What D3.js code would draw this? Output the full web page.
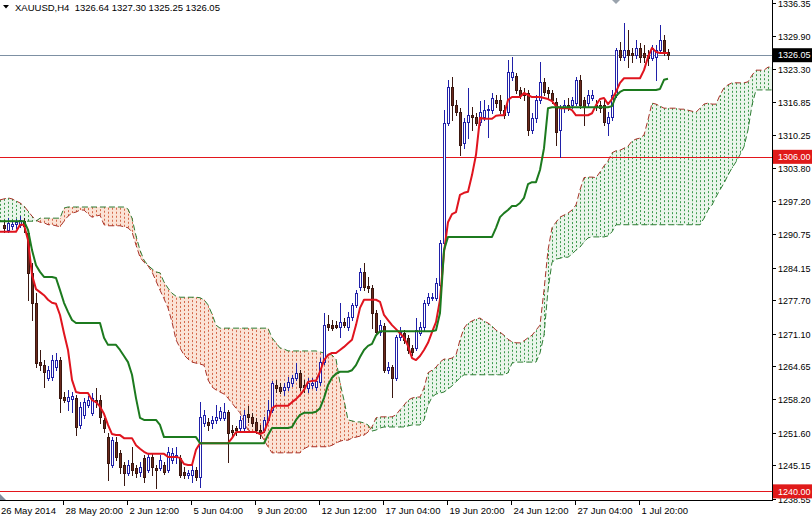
<!DOCTYPE html>
<html><head><meta charset="utf-8">
<script src="https://cdn.jsdelivr.net/npm/d3@7/dist/d3.min.js"></script>
<style>html,body{margin:0;padding:0;background:#fff;overflow:hidden}</style>
</head><body>
<svg id="chart" width="812" height="517"></svg>
<script>
// ---------- DATA ----------
const symbolTitle = "XAUUSD,H4";
const titleValues = ["1326.64", "1327.30", "1325.25", "1326.05"];
const firstBar = 1; // candles start at bar 1
const open = [
1292.6,1291.6,1292.4,1292.8,1292.6,1293.3,1291.0,1283.1,1277.2,1265.5,
1264.9,1262.4,1262.6,1264.5,1265.9,1258.6,1257.8,1258.2,1258.4,1253.1,
1255.1,1257.0,1255.5,1258.0,1258.0,1254.1,1250.7,1245.2,1249.7,1247.6,
1245.2,1243.6,1245.6,1244.6,1243.8,1246.6,1244.2,1246.8,1244.6,1244.6,
1245.2,1244.2,1246.2,1246.8,1246.6,1243.8,1243.2,1243.2,1244.2,1242.8,
1253.5,1253.7,1253.5,1254.1,1254.5,1254.5,1255.7,1252.1,1252.5,1252.5,
1252.5,1255.3,1254.7,1253.7,1252.1,1252.1,1254.1,1256.1,1261.0,1260.6,
1260.0,1260.6,1261.4,1262.4,1263.4,1261.0,1260.4,1261.0,1260.6,1261.6,
1265.5,1273.0,1272.8,1272.8,1272.4,1273.4,1272.4,1274.4,1276.8,1280.3,
1283.3,1280.5,1280.1,1275.2,1271.4,1272.6,1263.9,1264.5,1262.4,1270.4,
1271.2,1270.3,1268.3,1268.3,1271.2,1272.4,1277.2,1278.2,1278.2,1280.7,
1289.0,1312.7,1319.8,1316.2,1314.8,1308.7,1312.9,1314.2,1313.9,1312.9,
1313.9,1315.2,1315.2,1317.2,1317.2,1315.2,1314.8,1321.7,1321.9,1319.2,
1318.6,1318.6,1311.3,1313.7,1317.2,1320.8,1319.2,1318.6,1316.8,1311.3,
1315.6,1316.2,1316.2,1316.6,1321.2,1317.2,1316.6,1317.6,1316.2,1316.2,
1316.2,1312.7,1313.9,1318.2,1327.1,1325.7,1327.1,1326.5,1326.1,1327.5,
1326.5,1326.1,1325.5,1325.7,1327.1,1329.1,1326.64];
const high = [
1293.5,1293.9,1293.3,1293.7,1294.3,1293.9,1291.6,1285.1,1279.1,1267.9,
1265.9,1264.7,1266.9,1267.3,1266.5,1259.6,1260.0,1259.6,1259.0,1257.6,
1258.4,1258.8,1259.4,1260.4,1259.0,1254.5,1251.5,1250.7,1250.7,1248.2,
1245.8,1246.2,1248.8,1245.2,1245.8,1247.2,1247.6,1247.6,1245.2,1247.2,
1245.8,1248.8,1248.6,1248.8,1247.2,1244.8,1244.2,1245.2,1244.8,1257.6,
1256.1,1254.5,1254.9,1257.0,1256.7,1257.4,1256.1,1253.1,1252.9,1254.9,
1256.1,1256.9,1255.5,1254.5,1253.1,1254.7,1258.0,1261.8,1262.0,1261.4,
1261.4,1262.6,1263.0,1265.3,1263.9,1262.0,1262.4,1262.4,1262.6,1266.3,
1275.2,1274.8,1273.8,1273.6,1277.2,1274.2,1275.4,1277.2,1279.7,1284.1,
1285.1,1282.3,1280.7,1275.8,1273.8,1273.2,1265.5,1264.9,1270.8,1272.4,
1271.8,1270.8,1268.9,1274.2,1273.4,1277.8,1279.1,1279.1,1282.1,1289.6,
1315.2,1321.2,1321.7,1317.2,1315.6,1313.7,1319.6,1315.8,1314.6,1317.0,
1317.2,1316.2,1318.6,1318.2,1318.2,1316.2,1325.1,1325.7,1322.5,1319.8,
1319.6,1319.2,1314.6,1318.2,1324.7,1321.6,1319.8,1319.2,1317.6,1316.2,
1317.2,1317.6,1317.8,1321.7,1322.2,1317.8,1319.2,1319.2,1317.2,1317.0,
1317.2,1314.8,1319.2,1327.5,1328.7,1332.4,1331.0,1327.5,1329.1,1328.5,
1328.1,1327.1,1328.1,1328.1,1332.0,1330.0,1327.30];
const low = [
1291.2,1291.2,1291.8,1292.0,1292.2,1291.2,1277.8,1273.8,1264.5,1263.9,
1260.6,1262.0,1262.0,1263.9,1255.7,1257.6,1256.1,1255.7,1251.1,1252.5,
1254.5,1256.7,1255.1,1256.7,1253.5,1251.7,1242.2,1244.8,1246.2,1243.6,
1241.3,1243.2,1243.2,1242.8,1243.0,1241.9,1243.8,1243.2,1240.7,1244.2,
1243.4,1243.8,1245.6,1245.6,1242.8,1242.6,1242.6,1241.9,1242.2,1240.9,
1252.9,1252.1,1252.5,1253.5,1254.1,1254.1,1245.8,1250.7,1251.1,1252.1,
1252.1,1253.7,1252.9,1251.5,1250.5,1251.7,1253.7,1255.7,1259.6,1259.4,
1259.0,1260.0,1260.8,1262.0,1260.0,1259.6,1259.6,1260.4,1260.0,1261.0,
1265.1,1271.8,1271.8,1272.2,1270.4,1272.4,1271.8,1273.8,1276.4,1279.7,
1279.7,1279.3,1272.2,1270.8,1270.8,1263.6,1263.4,1258.6,1262.0,1269.9,
1269.3,1267.3,1266.9,1267.9,1270.8,1271.8,1276.8,1277.8,1277.8,1280.1,
1288.6,1312.3,1313.3,1314.2,1306.4,1307.7,1309.7,1311.3,1312.3,1312.3,
1313.3,1309.9,1314.6,1315.8,1314.6,1313.7,1314.2,1321.2,1318.6,1317.6,
1317.2,1310.3,1310.7,1312.9,1316.6,1318.2,1317.6,1316.6,1308.3,1306.0,
1314.8,1315.2,1315.6,1316.2,1315.6,1312.3,1315.8,1317.2,1315.2,1314.8,
1312.3,1310.3,1313.3,1317.8,1325.1,1325.1,1323.7,1324.7,1325.5,1324.7,
1324.7,1324.1,1325.1,1321.2,1326.5,1326.1,1325.25];
const close = [
1292.0,1293.0,1292.8,1293.1,1293.5,1292.4,1283.1,1277.2,1265.3,1264.9,
1263.6,1263.9,1265.9,1265.9,1258.4,1258.0,1258.6,1258.8,1252.7,1256.7,
1257.6,1258.0,1258.4,1257.6,1254.7,1252.5,1245.6,1250.1,1246.8,1244.8,
1243.6,1245.2,1244.2,1243.6,1244.8,1242.8,1246.8,1244.8,1244.2,1246.2,
1243.8,1247.8,1247.6,1247.2,1243.2,1243.2,1243.6,1244.2,1242.8,1254.7,
1255.1,1253.1,1254.1,1254.7,1255.9,1255.7,1251.5,1251.7,1252.1,1254.1,
1255.1,1254.7,1253.5,1252.1,1251.7,1254.1,1256.1,1261.4,1260.4,1259.8,
1260.6,1261.6,1262.4,1263.4,1260.6,1260.6,1261.4,1261.4,1261.8,1265.5,
1272.8,1272.4,1272.2,1272.4,1273.4,1272.8,1274.4,1276.8,1279.1,1283.3,
1280.3,1280.1,1275.2,1271.4,1272.8,1263.9,1264.5,1262.4,1270.4,1271.4,
1269.9,1267.9,1267.5,1271.8,1272.4,1277.2,1278.3,1278.3,1281.1,1289.0,
1312.7,1319.8,1316.2,1314.8,1308.3,1312.9,1314.2,1313.9,1312.7,1314.8,
1315.2,1315.4,1317.6,1316.6,1315.2,1314.2,1322.7,1322.7,1319.2,1318.2,
1318.2,1311.3,1313.7,1317.2,1320.8,1318.8,1318.6,1317.2,1310.9,1315.6,
1316.2,1315.8,1317.2,1321.2,1316.2,1315.8,1318.2,1318.2,1315.8,1315.6,
1312.9,1313.9,1318.2,1327.1,1325.7,1327.1,1326.1,1326.1,1327.5,1325.7,
1325.7,1325.5,1327.5,1327.1,1329.1,1326.7,1326.05];

// Ichimoku lines, one value per bar (bar 0 .. 167)
const tenkan = [
1291.2,1291.2,1291.2,1291.2,1291.2,1292.6,1292.6,1289.6,1282.7,1279.9,
1279.3,1278.7,1277.8,1277.2,1277.0,1274.8,1271.2,1267.9,1262.0,1259.6,
1259.4,1259.4,1259.4,1258.0,1257.6,1256.7,1255.3,1253.1,1251.3,1251.1,
1251.1,1250.5,1250.5,1250.5,1249.1,1248.4,1247.8,1247.4,1247.4,1247.4,
1247.4,1247.4,1246.8,1246.8,1246.8,1246.6,1245.4,1245.2,1245.2,1248.2,
1249.5,1249.5,1249.5,1249.5,1249.5,1249.5,1249.5,1249.5,1250.5,1251.7,
1251.7,1251.7,1251.7,1251.7,1251.7,1251.3,1251.7,1253.7,1256.4,1256.9,
1256.9,1256.9,1256.9,1257.6,1258.2,1259.0,1260.0,1261.6,1261.8,1261.8,
1263.6,1265.9,1266.9,1267.3,1267.3,1267.9,1268.5,1269.2,1269.9,1272.8,
1276.2,1277.8,1277.8,1277.8,1277.8,1277.4,1274.8,1273.8,1272.8,1272.0,
1271.2,1270.3,1268.7,1266.3,1265.9,1266.7,1267.9,1269.3,1271.4,1273.4,
1277.8,1287.2,1293.1,1294.7,1295.1,1298.5,1298.9,1299.1,1302.4,1306.4,
1313.7,1313.5,1313.5,1313.5,1314.1,1314.2,1314.2,1317.2,1317.8,1317.8,
1317.8,1318.6,1318.2,1317.8,1317.8,1317.8,1317.6,1317.4,1317.0,1316.0,
1315.6,1315.6,1315.6,1315.2,1314.2,1314.2,1314.2,1314.2,1314.6,1316.2,
1317.4,1317.6,1316.4,1317.4,1318.8,1320.6,1321.5,1321.5,1321.5,1321.5,
1321.5,1323.1,1325.7,1327.5,1326.7,1326.5,1326.5,1326.5];
const kijun = [
1293.3,1293.3,1293.3,1293.3,1293.3,1293.3,1293.3,1291.6,1287.6,1284.6,
1283.3,1282.3,1282.3,1282.3,1282.1,1279.7,1277.2,1275.4,1273.8,1273.2,
1273.2,1273.2,1273.2,1273.2,1273.2,1273.2,1270.3,1268.9,1268.9,1268.9,
1267.9,1266.7,1265.5,1263.0,1258.4,1254.5,1254.1,1254.1,1254.1,1254.1,
1253.1,1250.7,1250.7,1250.7,1250.7,1250.7,1250.7,1250.7,1250.7,1250.7,
1249.5,1249.5,1249.5,1249.5,1249.5,1249.5,1249.5,1249.5,1249.5,1249.5,
1249.5,1249.5,1249.5,1249.5,1249.5,1249.5,1249.5,1251.1,1252.5,1252.5,
1252.5,1252.5,1252.5,1252.7,1254.1,1255.1,1255.5,1255.5,1255.5,1255.7,
1256.4,1258.4,1261.0,1262.4,1263.2,1263.6,1263.6,1263.6,1263.9,1264.9,
1266.5,1267.9,1268.7,1269.1,1270.8,1271.6,1271.6,1271.6,1271.6,1271.6,
1271.6,1271.6,1271.6,1271.6,1271.6,1271.6,1271.6,1271.6,1271.6,1271.8,
1275.2,1287.6,1290.2,1290.2,1290.2,1290.2,1290.2,1290.2,1290.2,1290.2,
1290.2,1290.2,1290.2,1290.2,1292.0,1294.1,1294.9,1295.5,1296.3,1296.3,
1296.9,1297.9,1300.6,1301.0,1301.0,1303.4,1307.7,1315.6,1315.8,1315.8,
1315.8,1315.8,1315.8,1315.8,1315.8,1315.8,1315.8,1315.8,1315.8,1315.8,
1315.8,1315.8,1315.8,1316.0,1318.0,1318.8,1319.2,1319.2,1319.2,1319.2,
1319.2,1319.2,1319.2,1319.2,1319.2,1319.4,1321.2,1321.4];
// Cloud spans, one value per bar (bar 0 .. 193, shifted 26 bars ahead)
const senkouA = [
1297.5,1297.7,1297.9,1297.7,1297.3,1296.9,1296.3,1295.3,1294.3,1293.5,
1293.1,1293.0,1292.6,1292.6,1292.4,1292.2,1293.3,1294.3,1294.9,1295.1,
1295.5,1295.5,1294.7,1294.1,1294.3,1294.5,1292.6,1292.4,1292.4,1292.4,
1292.4,1292.2,1292.0,1291.2,1288.6,1286.2,1285.2,1284.5,1283.3,1281.5,
1279.7,1278.0,1276.2,1273.4,1269.9,1268.3,1266.9,1266.1,1265.5,1265.3,
1265.1,1264.9,1262.0,1260.6,1260.0,1259.6,1259.2,1258.4,1257.4,1256.4,
1255.5,1253.7,1252.1,1251.9,1251.7,1251.5,1250.1,1248.8,1247.6,1247.6,
1247.6,1247.6,1247.6,1247.6,1247.6,1247.6,1248.4,1248.8,1248.8,1248.8,
1248.8,1248.8,1248.8,1249.1,1249.5,1249.9,1250.1,1250.1,1250.5,1250.7,
1250.9,1251.1,1251.7,1252.7,1254.5,1254.7,1254.7,1254.7,1254.7,1255.1,
1256.1,1257.0,1258.0,1258.4,1258.6,1258.6,1260.4,1263.4,1263.9,1264.5,
1265.5,1266.1,1266.1,1266.3,1266.9,1269.9,1272.2,1273.2,1273.6,1274.0,
1274.2,1273.6,1273.2,1272.6,1271.8,1271.4,1270.8,1270.0,1269.5,1269.3,
1269.3,1269.7,1270.3,1270.8,1271.8,1272.8,1279.7,1287.6,1292.0,1293.1,
1294.1,1294.5,1294.9,1295.5,1296.5,1299.5,1301.9,1302.0,1302.0,1301.9,
1303.0,1304.2,1305.2,1306.8,1307.2,1307.3,1307.7,1308.1,1309.1,1309.5,
1309.7,1310.3,1313.3,1316.6,1316.4,1316.0,1315.6,1315.6,1315.6,1315.6,
1315.4,1315.4,1315.2,1315.0,1314.8,1315.6,1316.4,1316.6,1316.4,1316.4,
1318.2,1319.6,1320.2,1320.6,1320.6,1320.6,1320.6,1320.8,1322.1,1323.1,
1323.1,1323.1,1323.7,1323.7];
const senkouB = [
1293.3,1293.3,1293.3,1293.3,1293.3,1293.3,1293.3,1293.3,1293.3,1293.3,
1293.9,1293.9,1293.9,1293.9,1293.9,1293.9,1295.9,1296.1,1296.1,1296.1,
1296.1,1296.1,1296.1,1296.1,1296.1,1296.1,1296.1,1296.1,1296.1,1296.1,
1296.1,1296.1,1295.7,1293.9,1290.4,1287.6,1285.6,1284.6,1283.9,1283.3,
1283.1,1281.3,1280.1,1279.1,1278.5,1278.3,1278.3,1278.3,1278.3,1278.3,
1278.2,1277.8,1276.8,1275.0,1272.8,1272.2,1272.2,1272.2,1272.2,1272.2,
1272.2,1272.2,1272.2,1272.2,1272.2,1272.2,1272.2,1272.2,1270.3,1269.3,
1268.3,1268.1,1267.7,1267.7,1267.7,1267.7,1267.7,1267.7,1267.7,1267.7,
1267.5,1267.3,1267.1,1266.9,1266.1,1261.4,1258.0,1254.1,1253.9,1253.7,
1253.7,1253.5,1253.1,1251.9,1252.1,1252.5,1252.7,1252.7,1252.7,1252.7,
1252.7,1252.7,1252.9,1253.1,1253.1,1253.1,1254.1,1257.0,1258.6,1259.2,
1259.4,1259.6,1260.2,1260.8,1261.6,1262.4,1263.0,1263.0,1263.0,1263.0,
1263.0,1263.0,1263.0,1263.0,1263.0,1263.0,1263.0,1263.4,1265.3,1265.5,
1265.5,1265.5,1265.5,1265.5,1265.5,1267.3,1270.8,1279.7,1285.2,1285.8,
1286.0,1286.2,1286.2,1286.8,1287.6,1288.2,1289.2,1290.0,1290.2,1290.2,
1290.2,1290.2,1290.4,1291.2,1292.6,1292.6,1292.6,1292.6,1292.6,1292.6,
1292.6,1292.6,1292.6,1292.6,1292.6,1292.6,1292.6,1292.6,1292.6,1292.6,
1292.6,1292.6,1292.6,1292.6,1292.6,1292.6,1293.9,1295.5,1296.5,1298.1,
1299.5,1300.8,1302.4,1303.8,1305.0,1306.4,1308.0,1311.3,1316.2,1319.2,
1319.2,1319.2,1319.2,1319.2];

const yTickValues = [1336.35,1329.90,1323.30,1316.85,1310.25,1303.80,1297.20,1290.75,1284.15,1277.70,1271.10,1264.65,1258.20,1251.60,1245.15,1238.55];
const xTickBars = [0,16,32,48,64,80,96,112,128,144,160];
const xTickLabels = ["26 May 2014","28 May 20:00","2 Jun 12:00","5 Jun 04:00","9 Jun 20:00","12 Jun 12:00","17 Jun 04:00","19 Jun 20:00","24 Jun 12:00","27 Jun 04:00","1 Jul 20:00"];
const levelValues = [1306.00, 1240.00];
const bidValue = 1326.05;

// ---------- LAYOUT ----------
const W = 812, H = 517, plotR = 772, plotB = 500;
const totalBars = 193;
const svg = d3.select("#chart");
const FONT = "'Liberation Sans', Arial, sans-serif";
const x = d3.scaleLinear().domain([0, totalBars]).range([0, plotR]);
const y = d3.scaleLinear().domain([1238.55, 1336.35]).range([498.7, 3]);
const px = b => Math.round(x(b)) + 0.5;

svg.append("rect").attr("width", W).attr("height", H).attr("fill", "#fff");
svg.append("defs").append("clipPath").attr("id", "plotClip")
  .append("rect").attr("x", 0).attr("y", 0).attr("width", plotR).attr("height", plotB);
const plot = svg.append("g").attr("clip-path", "url(#plotClip)");

// ---------- CLOUD ----------
const cloudBars = d3.range(senkouA.length);
const areaGreen = d3.area().x(b => x(b))
  .y0(b => y(senkouB[b])).y1(b => y(Math.max(senkouA[b], senkouB[b])));
const areaOrange = d3.area().x(b => x(b))
  .y0(b => y(senkouA[b])).y1(b => y(Math.max(senkouA[b], senkouB[b])));
plot.append("path").datum(cloudBars).attr("d", areaGreen).attr("fill", "#eaf5eb");
plot.append("path").datum(cloudBars).attr("d", areaOrange).attr("fill", "#fbe3d6");
plot.append("g").selectAll("line").data(cloudBars).join("line")
  .attr("x1", b => px(b)).attr("x2", b => px(b))
  .attr("y1", b => y(senkouA[b])).attr("y2", b => y(senkouB[b]))
  .attr("stroke", b => senkouA[b] >= senkouB[b] ? "#3d9b4e" : "#d4684a")
  .attr("stroke-width", 1).attr("stroke-dasharray", "2,2");
const lineGen = arr => d3.line().x(b => x(b)).y(b => y(arr[b]))(d3.range(arr.length));
plot.append("path").attr("d", lineGen(senkouA)).attr("fill", "none")
  .attr("stroke", "#a8342a").attr("stroke-width", 1).attr("stroke-dasharray", "6,3");
plot.append("path").attr("d", lineGen(senkouB)).attr("fill", "none")
  .attr("stroke", "#2f7d34").attr("stroke-width", 1).attr("stroke-dasharray", "6,3");

// ---------- LEVEL LINES (1px filled bands) ----------
levelValues.forEach(v => {
  plot.append("rect").attr("x", 0).attr("width", plotR)
    .attr("y", Math.round(y(v))).attr("height", 1)
    .attr("fill", "#e3161c");
});
plot.append("rect").attr("x", 0).attr("width", plotR)
  .attr("y", Math.round(y(bidValue))).attr("height", 1)
  .attr("fill", "#7d90a3");

// ---------- CANDLES ----------
const candles = open.map((o, i) => ({b: i + firstBar, o, h: high[i], l: low[i], c: close[i]}));
const cg = plot.append("g");
candles.forEach(d => {
  const cx = px(d.b);
  const bull = d.c >= d.o;
  const col = bull ? "#2020a8" : "#3a1710";
  cg.append("line").attr("x1", cx).attr("x2", cx)
    .attr("y1", Math.round(y(d.h))).attr("y2", Math.round(y(d.l)) + 1)
    .attr("stroke", col).attr("stroke-width", 1);
  const top = Math.round(y(Math.max(d.o, d.c))) + 0.5;
  const bot = Math.round(y(Math.min(d.o, d.c))) + 0.5;
  cg.append("rect").attr("x", cx - 1).attr("y", top)
    .attr("width", 2).attr("height", Math.max(0, bot - top))
    .attr("fill", bull ? "#ffffff" : "#6b2a1c")
    .attr("stroke", col).attr("stroke-width", 1);
});

// ---------- TENKAN / KIJUN ----------
plot.append("path").attr("d", lineGen(tenkan)).attr("fill", "none")
  .attr("stroke", "#e0141e").attr("stroke-width", 2).attr("stroke-linejoin", "round");
plot.append("path").attr("d", lineGen(kijun)).attr("fill", "none")
  .attr("stroke", "#1c7a1e").attr("stroke-width", 2).attr("stroke-linejoin", "round");

// ---------- FRAME & AXES ----------
svg.append("line").attr("x1", plotR + 0.5).attr("x2", plotR + 0.5).attr("y1", 0).attr("y2", plotB + 1)
  .attr("stroke", "#000");
svg.append("line").attr("x1", 0).attr("x2", plotR + 1).attr("y1", plotB + 0.5).attr("y2", plotB + 0.5)
  .attr("stroke", "#000");

const yAxis = svg.append("g");
yTickValues.forEach(v => {
  const yy = Math.round(y(v)) + 0.5;
  yAxis.append("line").attr("x1", plotR).attr("x2", plotR + 4).attr("y1", yy).attr("y2", yy).attr("stroke", "#000");
  yAxis.append("text").attr("x", 778).attr("y", yy).attr("dy", "0.35em")
    .attr("font-family", FONT).attr("font-size", 9).attr("fill", "#000").text(v.toFixed(2));
});

// price tags
function tag(v, bg) {
  const yy = y(v);
  svg.append("rect").attr("x", 773).attr("y", yy - 7).attr("width", 39).attr("height", 14).attr("fill", bg);
  svg.append("text").attr("x", 778).attr("y", yy).attr("dy", "0.35em")
    .attr("font-family", FONT).attr("font-size", 9).attr("fill", "#fff").text(v.toFixed(2));
}
tag(bidValue, "#000000");
levelValues.forEach(v => tag(v, "#e01a1a"));

const xAxis = svg.append("g");
xTickBars.forEach((b, i) => {
  const xx = Math.round(x(b)) - 0.5;
  if (i > 0) xAxis.append("line").attr("x1", xx).attr("x2", xx).attr("y1", plotB).attr("y2", plotB + 5).attr("stroke", "#000");
  xAxis.append("text").attr("x", i === 0 ? 1 : xx + 2).attr("y", 514)
    .attr("font-family", FONT).attr("font-size", 9.5).attr("fill", "#000").text(xTickLabels[i]);
});

// ---------- TITLE ----------
svg.append("path").attr("d", "M3,5 L9,5 L6,8.5 Z").attr("fill", "#000");
svg.append("text").attr("x", 15).attr("y", 10.5)
  .attr("font-family", FONT).attr("font-size", 9.5).attr("fill", "#000")
  .attr("xml:space", "preserve")
  .text(symbolTitle + "  " + titleValues.join(" "));

// markers
svg.append("path").attr("d", "M612,0 L620,0 L616,4 Z").attr("fill", "#9aa3ad");
svg.append("path").attr("d", "M0,494 L6,500 L0,500 Z").attr("fill", "#7f8c9c");
</script>
</body></html>
